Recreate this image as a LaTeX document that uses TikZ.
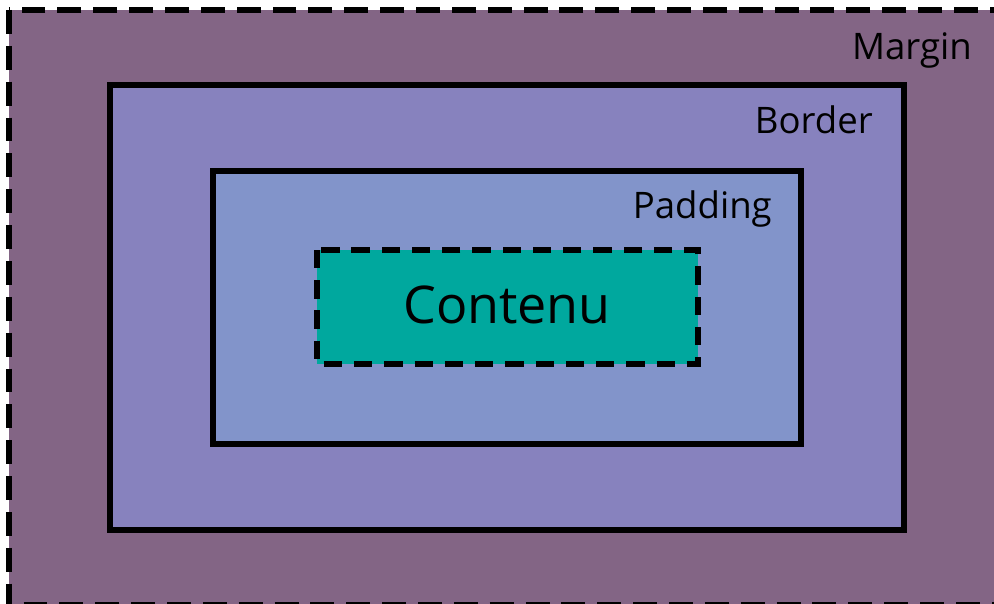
\documentclass[tikz,border=0pt]{standalone}
\usepackage{fontspec}
\setmainfont{Open Sans}
\definecolor{marginc}{RGB}{131,101,133}
\definecolor{borderc}{RGB}{135,130,190}
\definecolor{paddingc}{RGB}{130,148,202}
\definecolor{contentc}{RGB}{0,168,158}
\tikzset{
  box/.style={line width=4.2pt},
  dashbox/.style={line width=3.6pt, dash pattern=on 17pt off 8.5pt},
  lbl/.style={anchor=base east, inner sep=0pt, font=\fontsize{26}{30}\selectfont}
}
\begin{document}
\begin{tikzpicture}[x=0.025cm,y=-0.025cm]

  \useasboundingbox (0,0) rectangle (994,604);
  \clip (0,0) rectangle (994,604);

  % margin
  \fill[marginc] (9,10) rectangle (1010,620);
  \draw[dashbox] (9,10) rectangle (1010,605);
  \node[lbl] (marginlbl) at (972,60) {Margin};

  % border
  \filldraw[box, fill=borderc] (110,85) rectangle (904,530);
  \node[lbl] (borderlbl) at (873,134) {Border};

  % padding
  \filldraw[box, fill=paddingc] (213,171) rectangle (801,444);
  \node[lbl] (paddinglbl) at (772,218) {Padding};

  % content
  \fill[contentc] (317,250) rectangle (698,364);
  \draw[dashbox, dash pattern=on 13pt off 8.5pt] (317,250) rectangle (698,364);
  \node[anchor=base, inner sep=0pt, font=\fontsize{37}{42}\selectfont] (content) at (507,323) {Contenu};

\end{tikzpicture}
\end{document}
